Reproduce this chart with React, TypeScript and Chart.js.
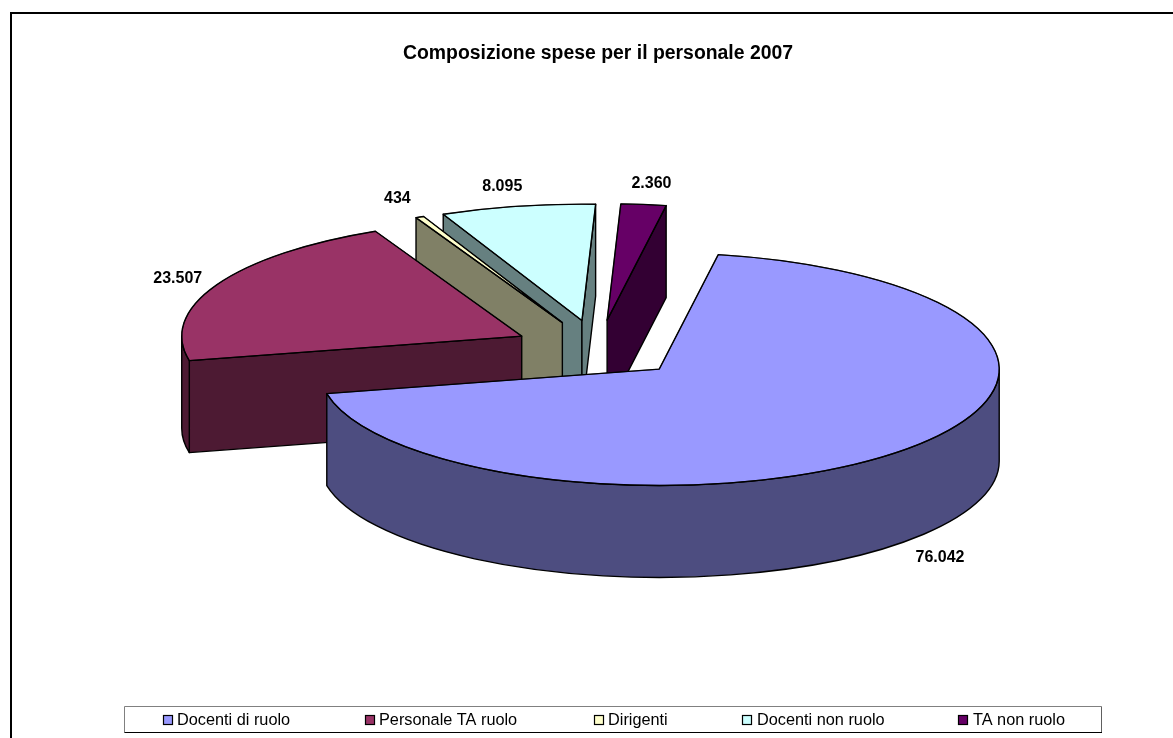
import React, { useEffect, useRef } from "react";
import Chart from "chart.js/auto";

const categories = ["Docenti di ruolo", "Personale TA ruolo", "Dirigenti", "Docenti non ruolo", "TA non ruolo"];
const spese = [76042, 23507, 434, 8095, 2360];
const topColours = ["#9999FF", "#993366", "#FFFFCC", "#CCFFFF", "#660066"];
const wallColours = ["#4D4D80", "#4D1A33", "#808066", "#668080", "#330033"];
const titleText = "Composizione spese per il personale 2007";

// 3D look (styling, not data)
const SQUASH = 0.342;
const DEPTH = 92;
const EXPLODE = 85;
const PIE_CENTRE_Y = 349;
const LABEL_RADIUS = 390;
const LINE = 1.4;
const labelNudge = [[0, 4], [6, 1], [-1.5, -2.5], [-6, -3], [2.5, -3.5]];
const legendBoxX = [163, 365, 594, 742, 958];
const legendTextX = [177, 379, 608, 757, 973];
const FONT = "'Liberation Sans', Arial, sans-serif";

const fmt = (v: number) => String(v).replace(/\B(?=(\d{3})+$)/g, ".");

function geom(el: any) {
  const p = el.getProps(["x", "y", "startAngle", "endAngle", "outerRadius"], true);
  const mid = (p.startAngle + p.endAngle) / 2;
  return {
    ...p,
    mid,
    cx: p.x + Math.cos(mid) * EXPLODE,
    cy: PIE_CENTRE_Y + Math.sin(mid) * EXPLODE * SQUASH,
  };
}

function paint(ctx: CanvasRenderingContext2D, fill: string | null) {
  if (fill) {
    ctx.fillStyle = fill;
    ctx.fill();
  }
  ctx.lineWidth = LINE;
  ctx.strokeStyle = "#000";
  ctx.lineJoin = "round";
  ctx.stroke();
}

function radialWall(ctx: CanvasRenderingContext2D, g: any, a: number, colour: string) {
  const px = g.cx + Math.cos(a) * g.outerRadius;
  const py = g.cy + Math.sin(a) * g.outerRadius * SQUASH;
  ctx.beginPath();
  ctx.moveTo(g.cx, g.cy);
  ctx.lineTo(px, py);
  ctx.lineTo(px, py + DEPTH);
  ctx.lineTo(g.cx, g.cy + DEPTH);
  ctx.closePath();
  paint(ctx, colour);
}

function outerWall(ctx: CanvasRenderingContext2D, g: any, colour: string) {
  const ry = g.outerRadius * SQUASH;
  for (let n = -1; n <= 1; n++) {
    const a1 = Math.max(g.startAngle, n * 2 * Math.PI);
    const a2 = Math.min(g.endAngle, Math.PI + n * 2 * Math.PI);
    if (a2 <= a1) continue;
    ctx.beginPath();
    ctx.ellipse(g.cx, g.cy, g.outerRadius, ry, 0, a1, a2);
    ctx.ellipse(g.cx, g.cy + DEPTH, g.outerRadius, ry, 0, a2, a1, true);
    ctx.closePath();
    paint(ctx, colour);
  }
}

function drawLegend(this: any) {
  const ctx = this.ctx;
  ctx.save();
  ctx.lineWidth = 1;
  ctx.strokeStyle = "#808080";
  ctx.beginPath();
  ctx.moveTo(124.5, 732.5);
  ctx.lineTo(124.5, 706.5);
  ctx.lineTo(1101.5, 706.5);
  ctx.stroke();
  ctx.strokeStyle = "#606060";
  ctx.beginPath();
  ctx.moveTo(1101.5, 706.5);
  ctx.lineTo(1101.5, 732.5);
  ctx.stroke();
  ctx.strokeStyle = "#000";
  ctx.lineWidth = 1.2;
  ctx.beginPath();
  ctx.moveTo(1102, 732.5);
  ctx.lineTo(124.5, 732.5);
  ctx.stroke();
  ctx.font = `16.3px ${FONT}`;
  ctx.textAlign = "left";
  ctx.textBaseline = "alphabetic";
  this.legendItems.forEach((item: any, i: number) => {
    ctx.fillStyle = item.fillStyle;
    ctx.fillRect(legendBoxX[i] + 0.5, 715.5, 9, 9);
    ctx.strokeStyle = "#000";
    ctx.lineWidth = 1.2;
    ctx.strokeRect(legendBoxX[i] + 0.5, 715.5, 9, 9);
    ctx.fillStyle = "#000";
    ctx.fillText(item.text, legendTextX[i], 725);
  });
  ctx.restore();
}

const pie3d = {
  id: "pie3d",
  afterLayout(chart: any) {
    chart.legend.draw = drawLegend;
  },
  beforeDraw(chart: any) {
    const { ctx, width, height } = chart;
    ctx.save();
    ctx.fillStyle = "#fff";
    ctx.fillRect(0, 0, width, height);
    ctx.strokeStyle = "#000";
    ctx.lineWidth = 2;
    ctx.beginPath();
    ctx.moveTo(11, height);
    ctx.lineTo(11, 13);
    ctx.lineTo(width, 13);
    ctx.stroke();
    ctx.restore();
  },
  beforeDatasetDraw(chart: any, args: any) {
    const { ctx } = chart;
    const arcs = args.meta.data;
    const order = arcs
      .map((el: any, i: number) => ({ el, i, g: geom(el) }))
      .sort((a: any, b: any) => Math.sin(a.g.mid) - Math.sin(b.g.mid));
    for (const { el, i, g } of order) {
      ctx.save();
      if (Math.cos(g.startAngle) < 0) radialWall(ctx, g, g.startAngle, wallColours[i]);
      if (Math.cos(g.endAngle) > 0) radialWall(ctx, g, g.endAngle, wallColours[i]);
      outerWall(ctx, g, wallColours[i]);
      // the library's own arc, flattened and pulled out of the pie
      ctx.save();
      ctx.translate(0, PIE_CENTRE_Y);
      ctx.scale(1, SQUASH);
      ctx.translate(Math.cos(g.mid) * EXPLODE, Math.sin(g.mid) * EXPLODE - g.y);
      el.draw(ctx);
      ctx.restore();
      ctx.beginPath();
      ctx.moveTo(g.cx, g.cy);
      ctx.ellipse(g.cx, g.cy, g.outerRadius, g.outerRadius * SQUASH, 0, g.startAngle, g.endAngle);
      ctx.closePath();
      paint(ctx, null);
      ctx.restore();
    }
    return false;
  },
  afterDraw(chart: any) {
    const { ctx } = chart;
    const meta = chart.getDatasetMeta(0);
    ctx.save();
    ctx.font = `bold 16px ${FONT}`;
    ctx.fillStyle = "#000";
    ctx.textAlign = "center";
    ctx.textBaseline = "middle";
    meta.data.forEach((el: any, i: number) => {
      const g = geom(el);
      const s = Math.sin(g.mid);
      const x = g.cx + Math.cos(g.mid) * LABEL_RADIUS + labelNudge[i][0];
      const y = g.cy + s * LABEL_RADIUS * SQUASH + (s > 0 ? DEPTH : 0) + labelNudge[i][1];
      ctx.fillText(fmt(spese[i]), x, y);
    });
    ctx.restore();
  },
};

export default function App() {
  const ref = useRef<HTMLCanvasElement>(null);
  useEffect(() => {
    const chart = new Chart(ref.current!, {
      type: "pie",
      data: {
        labels: categories,
        datasets: [
          {
            data: spese,
            backgroundColor: topColours,
            borderColor: "#000",
            borderWidth: 1,
          },
        ],
      },
      options: {
        animation: false,
        responsive: false,
        rotation: 10,
        radius: 340,
        layout: { padding: { left: 23, right: 0, top: 0, bottom: 10 } },
        plugins: {
          tooltip: { enabled: false },
          title: {
            display: true,
            text: titleText,
            color: "#000",
            font: { family: FONT, size: 19.4, weight: "bold" },
            padding: { top: 42, bottom: 10 },
          },
          legend: {
            position: "bottom",
            labels: {
              boxWidth: 9,
              boxHeight: 9,
              padding: 60,
              color: "#000",
              font: { family: FONT, size: 16 },
            },
          },
        },
      },
      plugins: [pie3d],
    });
    return () => chart.destroy();
  }, []);
  return (
    <canvas
      ref={ref}
      width={1173}
      height={738}
      style={{ position: "absolute", left: 0, top: 0, display: "block" }}
    />
  );
}
